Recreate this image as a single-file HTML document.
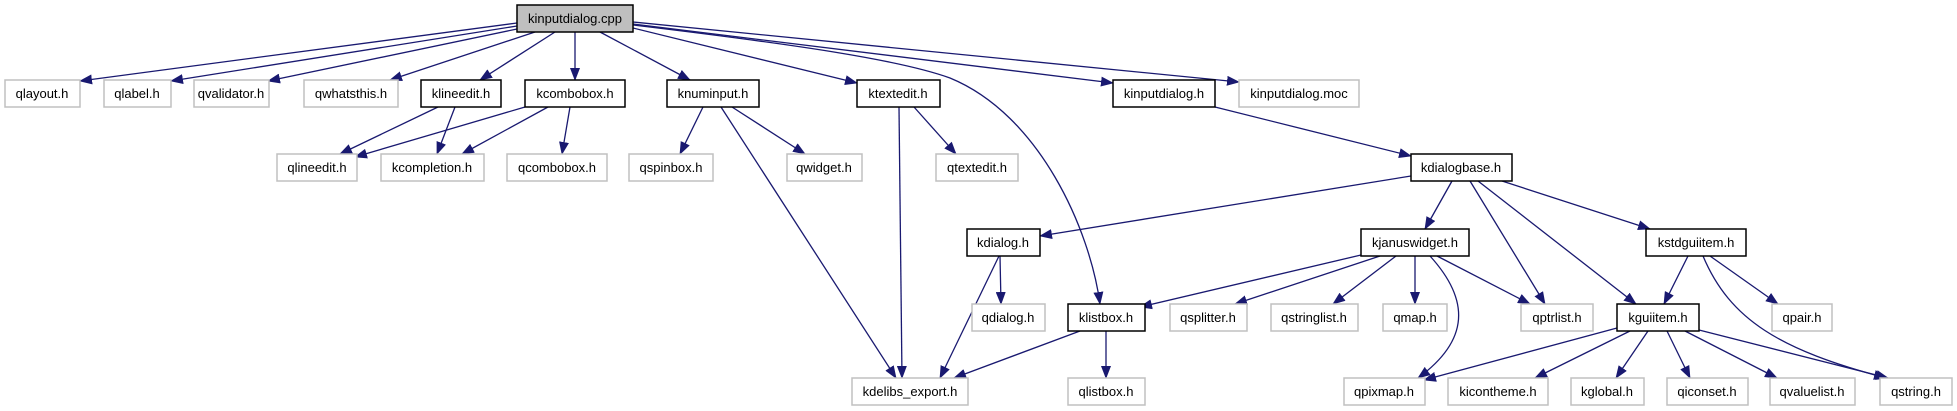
<!DOCTYPE html>
<html><head><meta charset="utf-8"><style>
html,body{margin:0;padding:0;background:#fff;}
svg{display:block}
text{font-family:"Liberation Sans",sans-serif;font-size:13px;text-anchor:middle;fill:#000}
.g{fill:#fff;stroke:#c0c0c0;stroke-width:1.5}
.b{fill:#fff;stroke:#000;stroke-width:1.5}
.e{fill:none;stroke:#191970;stroke-width:1.3;marker-end:url(#a)}
</style></head><body>
<svg width="1957" height="411" viewBox="0 0 1957 411" xmlns="http://www.w3.org/2000/svg">
<defs><marker id="a" markerWidth="13" markerHeight="10" refX="12" refY="5" orient="auto" markerUnits="userSpaceOnUse"><path d="M0,0 L13,5 L0,10 z" fill="#191970"/></marker></defs>
<g>
<path class="e" d="M517,23 L80,81"/>
<path class="e" d="M517,26 L171,81"/>
<path class="e" d="M517,29 L268,81"/>
<path class="e" d="M535,32 L390,80"/>
<path class="e" d="M555,32 L480,80"/>
<path class="e" d="M575,32 L575,80"/>
<path class="e" d="M600,32 L690,80"/>
<path class="e" d="M633,28 L857,83"/>
<path class="e" d="M633,25 C800,45 900,60 950,78 C1040,115 1090,230 1100,304"/>
<path class="e" d="M633,24 L1113,83"/>
<path class="e" d="M633,22 L1239,82"/>
<path class="e" d="M438,107 L340,154"/>
<path class="e" d="M455,107 L437,154"/>
<path class="e" d="M525,107 L355,157"/>
<path class="e" d="M548,107 L462,154"/>
<path class="e" d="M570,107 L562,154"/>
<path class="e" d="M703,107 L680,154"/>
<path class="e" d="M721,107 L896,378"/>
<path class="e" d="M732,107 L805,154"/>
<path class="e" d="M899,107 L902,378"/>
<path class="e" d="M914,107 L956,154"/>
<path class="e" d="M1215,107 L1411,156"/>
<path class="e" d="M1411,176 L1040,236"/>
<path class="e" d="M1452,181 L1425,229"/>
<path class="e" d="M1470,181 L1545,304"/>
<path class="e" d="M1478,181 L1636,304"/>
<path class="e" d="M1502,181 L1650,229"/>
<path class="e" d="M999,256 L940,378"/>
<path class="e" d="M1000,256 L1001,304"/>
<path class="e" d="M1361,255 L1140,307"/>
<path class="e" d="M1380,256 L1235,304"/>
<path class="e" d="M1396,256 L1333,304"/>
<path class="e" d="M1415,256 L1415,304"/>
<path class="e" d="M1437,256 L1530,304"/>
<path class="e" d="M1430,256 C1470,300 1470,340 1418,378"/>
<path class="e" d="M1688,256 L1664,304"/>
<path class="e" d="M1710,256 L1778,304"/>
<path class="e" d="M1703,256 C1730,320 1780,350 1886,378"/>
<path class="e" d="M1080,331 L954,378"/>
<path class="e" d="M1106,331 L1106,378"/>
<path class="e" d="M1617,328 L1424,380"/>
<path class="e" d="M1630,331 L1535,378"/>
<path class="e" d="M1648,331 L1616,378"/>
<path class="e" d="M1667,331 L1690,378"/>
<path class="e" d="M1685,331 L1777,378"/>
<path class="e" d="M1699,330 L1888,378"/>
</g>
<g>
<rect x="517" y="5" width="116" height="27" fill="#bfbfbf" stroke="#000" stroke-width="1.5"/><text x="575" y="23">kinputdialog.cpp</text>

<rect class="g" x="5" y="80" width="75" height="27"/><text x="42" y="98">qlayout.h</text>
<rect class="g" x="104" y="80" width="67" height="27"/><text x="137" y="98">qlabel.h</text>
<rect class="g" x="194" y="80" width="75" height="27"/><text x="231" y="98">qvalidator.h</text>
<rect class="g" x="304" y="80" width="94" height="27"/><text x="351" y="98">qwhatsthis.h</text>
<rect class="b" x="421" y="80" width="80" height="27"/><text x="461" y="98">klineedit.h</text>
<rect class="b" x="525" y="80" width="100" height="27"/><text x="575" y="98">kcombobox.h</text>
<rect class="b" x="667" y="80" width="92" height="27"/><text x="713" y="98">knuminput.h</text>
<rect class="b" x="857" y="80" width="83" height="27"/><text x="898" y="98">ktextedit.h</text>
<rect class="b" x="1113" y="80" width="102" height="27"/><text x="1164" y="98">kinputdialog.h</text>
<rect class="g" x="1239" y="80" width="120" height="27"/><text x="1299" y="98">kinputdialog.moc</text>

<rect class="g" x="277" y="154" width="80" height="27"/><text x="317" y="172">qlineedit.h</text>
<rect class="g" x="381" y="154" width="103" height="27"/><text x="432" y="172">kcompletion.h</text>
<rect class="g" x="507" y="154" width="100" height="27"/><text x="557" y="172">qcombobox.h</text>
<rect class="g" x="629" y="154" width="84" height="27"/><text x="671" y="172">qspinbox.h</text>
<rect class="g" x="787" y="154" width="75" height="27"/><text x="824" y="172">qwidget.h</text>
<rect class="g" x="936" y="154" width="82" height="27"/><text x="977" y="172">qtextedit.h</text>
<rect class="b" x="1411" y="154" width="101" height="27"/><text x="1461" y="172">kdialogbase.h</text>

<rect class="b" x="967" y="229" width="73" height="27"/><text x="1003" y="247">kdialog.h</text>
<rect class="b" x="1361" y="229" width="108" height="27"/><text x="1415" y="247">kjanuswidget.h</text>
<rect class="b" x="1646" y="229" width="100" height="27"/><text x="1696" y="247">kstdguiitem.h</text>

<rect class="g" x="972" y="304" width="73" height="27"/><text x="1008" y="322">qdialog.h</text>
<rect class="b" x="1068" y="304" width="77" height="27"/><text x="1106" y="322">klistbox.h</text>
<rect class="g" x="1170" y="304" width="77" height="27"/><text x="1208" y="322">qsplitter.h</text>
<rect class="g" x="1271" y="304" width="87" height="27"/><text x="1314" y="322">qstringlist.h</text>
<rect class="g" x="1383" y="304" width="64" height="27"/><text x="1415" y="322">qmap.h</text>
<rect class="g" x="1521" y="304" width="72" height="27"/><text x="1557" y="322">qptrlist.h</text>
<rect class="b" x="1617" y="304" width="82" height="27"/><text x="1658" y="322">kguiitem.h</text>
<rect class="g" x="1772" y="304" width="60" height="27"/><text x="1802" y="322">qpair.h</text>

<rect class="g" x="852" y="378" width="116" height="27"/><text x="910" y="396">kdelibs_export.h</text>
<rect class="g" x="1068" y="378" width="77" height="27"/><text x="1106" y="396">qlistbox.h</text>
<rect class="g" x="1344" y="378" width="81" height="27"/><text x="1384" y="396">qpixmap.h</text>
<rect class="g" x="1448" y="378" width="100" height="27"/><text x="1498" y="396">kicontheme.h</text>
<rect class="g" x="1571" y="378" width="73" height="27"/><text x="1607" y="396">kglobal.h</text>
<rect class="g" x="1667" y="378" width="81" height="27"/><text x="1707" y="396">qiconset.h</text>
<rect class="g" x="1770" y="378" width="85" height="27"/><text x="1812" y="396">qvaluelist.h</text>
<rect class="g" x="1880" y="378" width="72" height="27"/><text x="1916" y="396">qstring.h</text>
</g>
</svg>
</body></html>
